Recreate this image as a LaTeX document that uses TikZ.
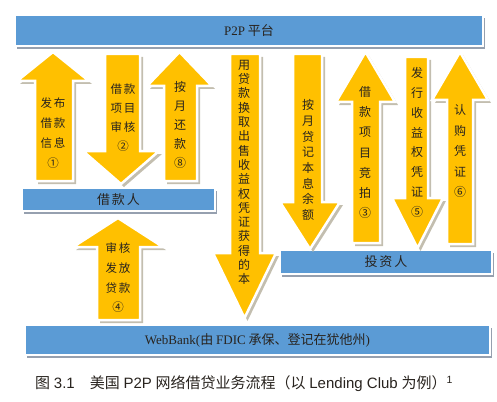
\documentclass[tikz,border=0pt]{standalone}
\usepackage{fontspec}
\setmainfont{Liberation Serif}
\newfontfamily\cjk{Noto Sans CJK SC}
\newfontfamily\capfont{Liberation Sans}
\usetikzlibrary{shadows}
\definecolor{boxblue}{RGB}{91,155,213}
\definecolor{arrowyellow}{RGB}{255,192,0}
\definecolor{arrowshade}{RGB}{195,190,175}
\definecolor{boxshade}{RGB}{150,160,175}
\definecolor{inktext}{RGB}{40,35,30}

\tikzset{
  flowbox/.style={fill=boxblue, draw=white, line width=1.5pt, inner sep=0pt, text=inktext,
    font=\cjk\fontsize{13}{15}\selectfont,
    drop shadow={shadow xshift=2pt, shadow yshift=-3pt, fill=boxshade, opacity=1}},
  blockarrow/.style={fill=arrowyellow, draw=white, line width=2.5pt, line join=miter,
    drop shadow={shadow xshift=3pt, shadow yshift=-3pt, fill=arrowshade, opacity=1}},
  arrtext/.style={align=center, inner sep=0pt, text=inktext}
}
% block arrow: shaft left/right, head left/right, tail y, head base y, tip y
\newcommand{\blockarr}[7]{%
  \draw[blockarrow] (#1,#5) -- (#1,#6) -- (#3,#6) -- ({(#3+#4)/2},#7) -- (#4,#6) -- (#2,#6) -- (#2,#5) -- cycle;}

\begin{document}
\begin{tikzpicture}[x=1pt, y=-1pt]
    \useasboundingbox (0,0) rectangle (497,401);

    % boxes
    \node[flowbox, minimum width=468pt, minimum height=31pt] (platform) at (249,30.5) {{\rmfamily P2P} 平台};
    \node[flowbox, minimum width=193pt, minimum height=23pt] (borrower) at (118.5,199.5) {借\hspace{2pt}款\hspace{2pt}人};
    \node[flowbox, minimum width=212pt, minimum height=24pt] (investor) at (386,262) {投\hspace{2pt}资\hspace{2pt}人};
    \node[flowbox, minimum width=465pt, minimum height=30pt] (webbank) at (257.5,340) {{\rmfamily WebBank(}由 {\rmfamily FDIC} 承保、登记在犹他州{\rmfamily )}};

    % arrows between borrower and platform
    \blockarr{35}{73}{17}{89}{181}{81}{52}
    \node[arrtext, font=\cjk\fontsize{11.5}{20}\selectfont] (publish) at (53,133) {发\hspace{2pt}布\\借\hspace{2pt}款\\信\hspace{2pt}息\\①};
    \blockarr{105}{140}{83}{159}{54}{151}{184}
    \node[arrtext, font=\cjk\fontsize{11.5}{19}\selectfont] (review) at (123,118) {借\hspace{2pt}款\\项\hspace{2pt}目\\审\hspace{2pt}核\\②};
    \blockarr{164}{197}{147}{212}{181}{86}{52}
    \node[arrtext, font=\cjk\fontsize{12}{19}\selectfont] (repay) at (180,125) {按\\月\\还\\款\\⑧};

    % arrows between platform, webbank and investor
    \blockarr{230}{260}{213}{276}{54}{253}{318}
    \node[arrtext, font=\cjk\fontsize{12}{14.3}\selectfont] (principal) at (244,172.5) {用\\贷\\款\\换\\取\\出\\售\\收\\益\\权\\凭\\证\\获\\得\\的\\本};
    \blockarr{293}{322}{280}{340}{54}{202}{249}
    \node[arrtext, font=\cjk\fontsize{12}{15.7}\selectfont] (credit) at (308,160) {按\\月\\贷\\记\\本\\息\\余\\额};
    \blockarr{352}{380}{336}{395}{243}{102}{52}
    \node[arrtext, font=\cjk\fontsize{12}{20.2}\selectfont] (bid) at (365,152.5) {借\\款\\项\\目\\竞\\拍\\③};
    \blockarr{405}{428}{392}{443}{57}{198}{248}
    \node[arrtext, font=\cjk\fontsize{12}{19.9}\selectfont] (issue) at (417,142.5) {发\\行\\收\\益\\权\\凭\\证\\⑤};
    \blockarr{447}{473}{432}{488}{244}{100}{52}
    \node[arrtext, font=\cjk\fontsize{12}{20.5}\selectfont] (subscribe) at (460,151) {认\\购\\凭\\证\\⑥};

    % webbank to borrower
    \blockarr{97}{140}{73}{163}{320}{247}{218}
    \node[arrtext, font=\cjk\fontsize{11.5}{19.7}\selectfont] (lend) at (118,278) {审\hspace{2pt}核\\发\hspace{2pt}放\\贷\hspace{2pt}款\\④};

    % caption
    \node[anchor=west, inner sep=0pt, text=inktext, font=\fontsize{15}{17}\selectfont] (caption) at (35,384)
      {{\cjk 图} {\capfont 3.1}\hspace{1em}{\cjk 美国} {\capfont P2P} {\cjk 网络借贷业务流程（以} {\capfont Lending Club} {\cjk 为例）}\textsuperscript{\capfont 1}};
\end{tikzpicture}
\end{document}
